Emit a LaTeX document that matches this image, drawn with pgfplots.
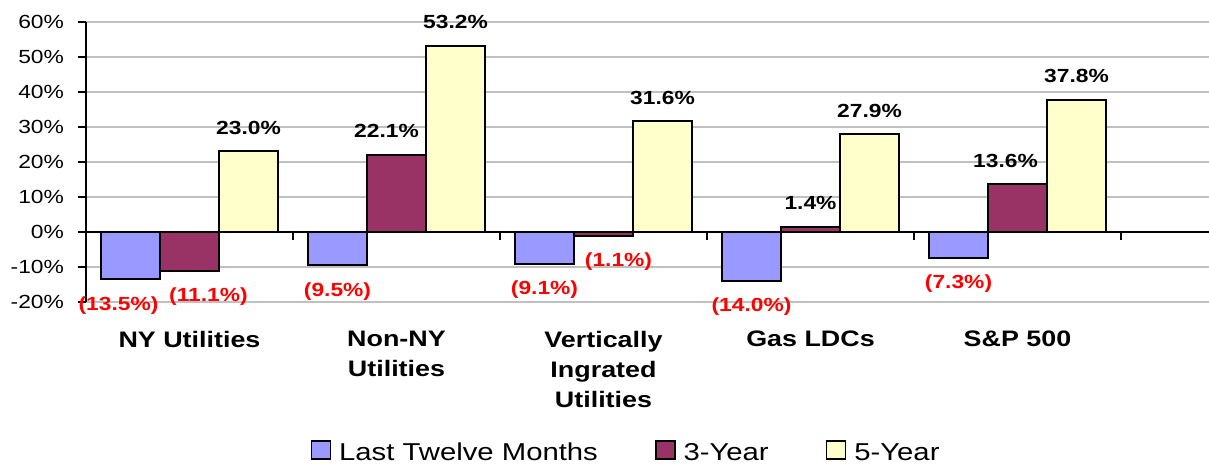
\documentclass[border=0pt]{standalone}
\usepackage{pgfplots}
\pgfplotsset{compat=1.18}
\usepackage{fontspec}
\setmainfont[FakeStretch=1.2]{Liberation Sans}
\definecolor{ltm}{HTML}{9999FF}
\definecolor{three}{HTML}{993366}
\definecolor{five}{HTML}{FFFFCC}
\definecolor{gridc}{HTML}{C0C0C0}
\pgfplotsset{sq/.style={legend image code/.code={\draw[##1, line width=0.8pt] (0pt,-2.7pt) rectangle (9.5pt,6.3pt);}}}
\newcommand{\NL}[1]{\smash{\raisebox{-24pt}{\textcolor{red}{(#1\%)}}}}
\begin{document}
\begin{tikzpicture}
\begin{axis}[
 name=ax,
 scale only axis,
 width=561.5pt, height=140pt,
 xmin=-0.5, xmax=4.925,
 ymin=-20, ymax=60,
 ytick={-20,-10,...,60},
 yticklabel={\pgfmathprintnumber{\tick}\%},
 /pgf/number format/assume math mode=true,
 yticklabel style={font=\fontsize{9.5}{11}\selectfont, xshift=-3.5pt},
 ymajorgrids, grid style={gridc, line width=0.6pt},
 axis y line*=left,
 axis x line*=bottom,
 x axis line style={draw=none},
 y axis line style={black, line width=0.6pt},
 ytick style={black, line width=0.6pt},
 tick align=outside, major tick length=4pt,
 xtick={0,...,4},
 xticklabels={NY Utilities, Non-NY\\Utilities, Vertically\\Ingrated\\Utilities, Gas LDCs, S\&P 500},
 xticklabel style={font=\bfseries\fontsize{11.2}{15}\selectfont, align=center, yshift=-7pt},
 xtick style={draw=none},
 ybar=0pt, bar width=29.5pt,
 point meta=explicit symbolic,
 nodes near coords=\pgfplotspointmeta,
 nodes near coords style={font=\bfseries\fontsize{9.5}{11}\selectfont, inner xsep=0pt, inner ysep=8pt, anchor=south},
 legend columns=3,
 legend style={draw=none, fill=none, inner sep=0pt, at={(axis description cs:0.48,0)}, anchor=center, yshift=-75pt, font=\fontsize{12.2}{14}\selectfont, nodes={inner sep=0pt}, /tikz/every odd column/.append style={column sep=4pt}, /tikz/every even column/.append style={column sep=28.5pt}},
 clip=false,
]
\draw[black, line width=0.6pt] (axis cs:-0.5,0) -- (axis cs:4.925,0);
\pgfplotsinvokeforeach{0.5,1.5,2.5,3.5,4.5}{\draw[black, line width=0.6pt] (axis cs:#1,0) -- ++(0pt,-4pt);}
\addplot[fill=ltm, draw=black, line width=1pt, sq] coordinates {
 (0,-13.5) [{\kern-12pt\NL{13.5}}]
 (1,-9.5) [{\NL{9.5}}]
 (2,-9.1) [{\NL{9.1}}]
 (3,-14.0) [{\NL{14.0}}]
 (4,-7.3) [{\NL{7.3}}]
};
\addplot[fill=three, draw=black, line width=1pt, sq] coordinates {
 (0,-11.1) [{\NL{11.1}\kern-19pt}]
 (1,22.1) [{\kern-10pt 22.1\%}]
 (2,-1.1) [{\NL{1.1}\kern-15pt}]
 (3,1.4) [{1.4\%}]
 (4,13.6) [{\kern-12pt 13.6\%}]
};
\addplot[fill=five, draw=black, line width=1pt, sq] coordinates {
 (0,23.0) [{23.0\%}]
 (1,53.2) [{53.2\%}]
 (2,31.6) [{31.6\%}]
 (3,27.9) [{27.9\%}]
 (4,37.8) [{37.8\%}]
};
\legend{Last Twelve Months, 3-Year, 5-Year}
\end{axis}
\pgfresetboundingbox
\path ([shift={(-43pt,-81pt)}]ax.south west) rectangle ([shift={(0pt,11pt)}]ax.north east);
\end{tikzpicture}
\end{document}
